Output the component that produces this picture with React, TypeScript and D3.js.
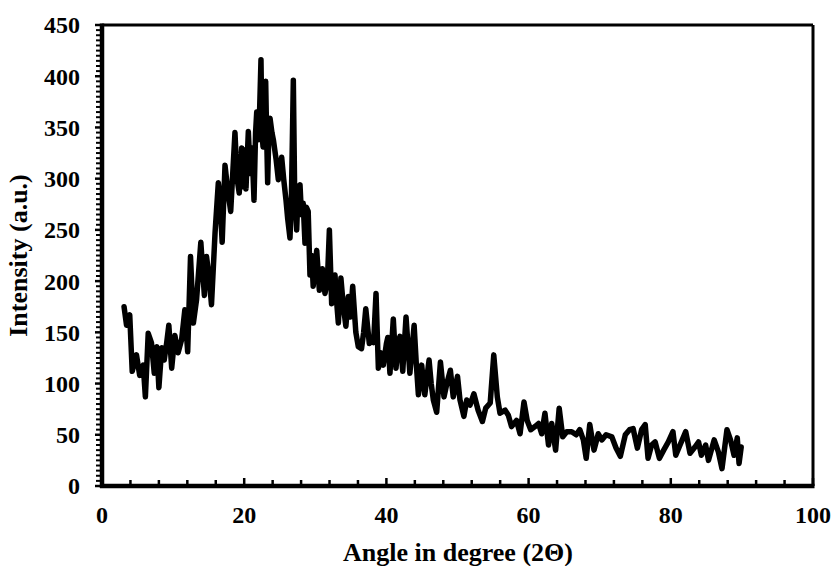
import React from 'react';
import * as d3 from 'd3';

// 2θ positions
const angles = [
  3.1, 3.45, 3.9, 4.25, 4.85, 5.3, 5.8, 6.1, 6.5, 6.95, 7.35, 7.7, 8.0, 8.4, 8.75, 9.1, 9.4, 9.8,
  10.25, 10.7, 11.2, 11.65, 12.05, 12.45, 12.85, 13.3, 13.9, 14.4, 14.7, 15.05, 15.4, 15.9,
  16.36, 16.55, 16.9, 17.3, 17.7, 18.1, 18.7, 19.0, 19.3, 19.65, 19.85, 20.05, 20.25, 20.58,
  20.85, 21.1, 21.38, 21.6, 21.76, 21.95, 22.15, 22.36, 22.5, 22.65, 22.85, 23.02, 23.15, 23.3,
  23.45, 23.63, 23.9, 24.1, 24.5, 24.8, 25.27, 25.55, 25.88, 26.1, 26.44, 26.65, 26.91, 27.1,
  27.38, 27.6, 27.85, 28.05, 28.3, 28.55, 28.75, 29.0, 29.25, 29.5, 29.7, 30.0, 30.2, 30.57,
  31.0, 31.36, 31.7, 31.98, 32.3, 32.55, 32.77, 33.0, 33.24, 33.6, 33.95, 34.3, 34.64, 34.95,
  35.26, 35.7, 36.05, 36.5, 36.8, 37.1, 37.6, 38.0, 38.2, 38.54, 38.87, 39.2, 39.57, 40.0, 40.2,
  40.5, 40.97, 41.35, 41.65, 41.9, 42.3, 42.76, 43.3, 43.9, 44.2, 44.5, 44.96, 45.4, 46.0, 46.3,
  46.6, 47.07, 47.6, 48.1, 48.5, 49.0, 49.4, 50.0, 50.35, 50.9, 51.3, 51.76, 52.3, 52.9, 53.5,
  53.97, 54.6, 55.1, 55.6, 55.98, 56.7, 57.15, 57.6, 58.3, 58.8, 59.35, 59.8, 60.3, 60.9, 61.4,
  61.84, 62.3, 62.8, 63.25, 63.8, 64.3, 64.8, 65.36, 66.06, 66.7, 67.2, 67.7, 68.1, 68.6, 69.2,
  69.8, 70.3, 70.9, 71.7, 72.3, 72.9, 73.6, 74.2, 74.7, 75.3, 75.9, 76.4, 76.8, 77.3, 77.8, 78.4,
  79.0, 79.65, 80.3, 80.7, 81.3, 82.1, 82.7, 83.4, 83.9, 84.3, 84.9, 85.3, 86.1, 86.7, 87.2,
  87.9, 88.4, 88.9, 89.35, 89.6, 89.9,
];

const intensities = [
  175, 157, 167, 112, 128, 108, 118, 87, 149, 140, 110, 136, 96, 135, 123, 140, 157, 115,
  147, 130, 143, 172, 131, 224, 159, 182, 238, 186, 224, 205, 177, 247,
  296, 285, 238, 313, 288, 268, 345, 300, 286, 330, 292, 328, 290, 346,
  305, 330, 279, 345, 365, 338, 362, 416, 345, 331, 378, 395, 345, 296,
  340, 359, 345, 338, 318, 299, 321, 300, 279, 262, 242, 285, 396, 285,
  250, 292, 294, 265, 276, 237, 272, 268, 206, 225, 195, 215, 230, 191,
  212, 188, 200, 250, 178, 198, 206, 180, 159, 203, 175, 156, 185, 165,
  195, 150, 136, 134, 150, 173, 139, 145, 140, 188, 115, 130, 118, 139, 145,
  110, 163, 115, 140, 146, 112, 165, 110, 157, 120, 89, 118, 89, 123, 100,
  84, 72, 121, 87, 100, 113, 87, 107, 84, 68, 84, 79, 90, 74, 63,
  76, 81, 128, 87, 71, 74, 69, 58, 64, 51, 82, 64, 55, 58, 61,
  51, 71, 40, 61, 35, 76, 48, 53, 53, 50, 55, 45, 27, 60, 35,
  51, 45, 50, 48, 37, 29, 50, 55, 56, 37, 55, 60, 27, 40, 43, 27,
  35, 43, 53, 30, 40, 53, 32, 38, 43, 30, 40, 25, 45, 33, 17,
  55, 45, 30, 47, 22, 38,
];

const xTicks = [0, 20, 40, 60, 80, 100];
const yTicks = [0, 50, 100, 150, 200, 250, 300, 350, 400, 450];

const W = 836;
const H = 566;
const font = "'Times New Roman', 'Liberation Serif', serif";

export default function App() {
  const x = d3.scaleLinear().domain([0, 100]).range([102, 813]);
  const y = d3.scaleLinear().domain([0, 450]).range([486, 25]);

  const pts = angles.map((a, i) => [a, intensities[i]] as [number, number]);
  const line = d3.line<[number, number]>().x(d => x(d[0])).y(d => y(d[1]));

  const xMinor = d3.range(0, 101, 4).filter(v => v % 20 !== 0);
  const yMinor = d3.range(0, 451, 5).filter(v => v % 50 !== 0);

  return (
    <svg width={W} height={H} style={{ position: 'absolute', left: 0, top: 0, background: '#fff' }}>
      {/* plot frame */}
      <line x1={x(0)} x2={x(100)} y1={y(450)} y2={y(450)} stroke="#000" strokeWidth={3} />
      <line x1={x(100)} x2={x(100)} y1={y(450)} y2={y(0)} stroke="#000" strokeWidth={3} />

      {/* data */}
      <path d={line(pts) || ''} fill="none" stroke="#000" strokeWidth={5.5} strokeLinejoin="round" strokeLinecap="round" />

      {/* x axis */}
      <line x1={x(0) - 2} x2={x(100) + 1.5} y1={y(0)} y2={y(0)} stroke="#000" strokeWidth={4.5} />
      {xMinor.map(v => (
        <line key={'xm' + v} x1={x(v)} x2={x(v)} y1={y(0)} y2={y(0) - 6} stroke="#000" strokeWidth={2.5} />
      ))}
      {xTicks.map(v => (
        <g key={'xt' + v}>
          <line x1={x(v)} x2={x(v)} y1={y(0)} y2={y(0) - 8} stroke="#000" strokeWidth={2.5} />
          <text x={x(v)} y={523} textAnchor="middle" fontFamily={font} fontWeight="bold" fontSize={24}>
            {v}
          </text>
        </g>
      ))}

      {/* y axis */}
      <line x1={x(0)} x2={x(0)} y1={y(450) - 1.5} y2={y(0) + 2} stroke="#000" strokeWidth={4.5} />
      {yMinor.map(v => (
        <line key={'ym' + v} x1={x(0)} x2={x(0) - 6} y1={y(v)} y2={y(v)} stroke="#000" strokeWidth={2} />
      ))}
      {yTicks.map(v => (
        <g key={'yt' + v}>
          <line x1={x(0)} x2={x(0) - 7} y1={y(v)} y2={y(v)} stroke="#000" strokeWidth={2.5} />
          <text x={80} y={y(v)} dy="0.35em" textAnchor="end" fontFamily={font} fontWeight="bold" fontSize={24}>
            {v}
          </text>
        </g>
      ))}

      {/* titles */}
      <text x={458} y={561} textAnchor="middle" fontFamily={font} fontWeight="bold" fontSize={26}>
        Angle in degree (2Θ)
      </text>
      <text
        transform={`translate(27, ${(y(0) + y(450)) / 2}) rotate(-90)`}
        textAnchor="middle"
        fontFamily={font}
        fontWeight="bold"
        fontSize={26}
      >
        Intensity (a.u.)
      </text>
    </svg>
  );
}
